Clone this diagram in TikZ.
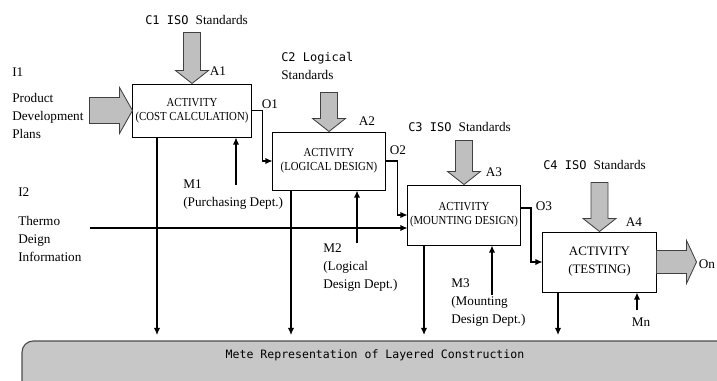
\documentclass[tikz,border=0pt]{standalone}
\usepackage{fontspec}
\setmainfont{Liberation Serif}
\newfontfamily\gothic{DejaVu Sans Mono}
\newfontfamily\boxfont[FakeStretch=0.88]{Liberation Serif}
\usetikzlibrary{arrows.meta,positioning}
\tikzset{
    actbox/.style={draw,line width=0.7pt,fill=white,align=center,inner sep=1pt,
        font=\boxfont\fontsize{8.7}{10}\selectfont},
    flow/.style={line width=0.9pt,-{Latex[length=5pt,width=4.5pt]}},
    lbl/.style={font=\fontsize{9.4}{12.8}\selectfont,align=left,inner sep=0pt},
    fatarr/.style={draw=black!75,line width=0.6pt,fill=black!25},
    pics/fatdown/.style={code={
        \draw[fatarr] (-8.5,-#1) -- (8.5,-#1) -- (8.5,-13) -- (16.5,-13) -- (0,0)
            -- (-16.5,-13) -- (-8.5,-13) -- cycle;}},
    pics/fatright/.style n args={4}{code={
        \draw[fatarr] (-#1,-#2) -- (-#4,-#2) -- (-#4,-#3) -- (0,0)
            -- (-#4,#3) -- (-#4,#2) -- (-#1,#2) -- cycle;}},
}

\begin{document}
\begin{tikzpicture}[x=0.025cm,y=-0.025cm]
\clip (0,0) rectangle (717,381);

% layered construction
\draw[draw=black!70,line width=0.8pt,fill=black!22,rounded corners=8pt] (22,341) rectangle (760,420);
\node[font=\gothic\fontsize{8.2}{10}\selectfont] (mete) at (375,355) {Mete Representation of Layered Construction};

% activities
\node[actbox,minimum width=2.95cm,minimum height=1.325cm] (a1) at (192,110.5) {ACTIVITY\\(COST CALCULATION)};
\node[actbox,minimum width=2.8cm,minimum height=1.45cm] (a2) at (329,161) {ACTIVITY\\(LOGICAL DESIGN)};
\node[actbox,minimum width=2.8cm,minimum height=1.5cm] (a3) at (464,215) {ACTIVITY\\(MOUNTING DESIGN)};
\node[actbox,minimum width=2.825cm,minimum height=1.5cm,
      font=\fontsize{9.2}{12.8}\selectfont] (a4) at (599.5,262) {ACTIVITY\\(TESTING)};

% controls, input, output
\pic at (a1.north) {fatdown=51};
\pic at (a2.north) {fatdown=39};
\pic at (a3.north) {fatdown=44};
\pic at (a4.north) {fatdown=49};
\pic at (a1.west) {fatright={43}{13}{23}{13}};
\pic at ([xshift=1cm]a4.east) {fatright={40}{11.5}{21.5}{10}};

% labels
\node[lbl,anchor=west] (c1) at (145,20) {{\gothic\fontsize{8.5}{10}\selectfont C1 ISO }Standards};
\node[lbl,anchor=west] (c2) at (281,65.5) {{\gothic\fontsize{8.5}{10}\selectfont C2 Logical}\\Standards};
\node[lbl,anchor=west] (c3) at (408,127) {{\gothic\fontsize{8.5}{10}\selectfont C3 ISO }Standards};
\node[lbl,anchor=west] (c4) at (543,165) {{\gothic\fontsize{8.5}{10}\selectfont C4 ISO }Standards};
\node[lbl] (la1) at (218,71) {A1};
\node[lbl] (la2) at (367,121) {A2};
\node[lbl] (la3) at (494,172) {A3};
\node[lbl] (la4) at (634,222) {A4};
\node[lbl,anchor=west] (i1) at (12,72) {I1};
\node[lbl,anchor=west] (i1t) at (12,116) {Product\\Development\\Plans};
\node[lbl,anchor=west] (i2) at (18,192) {I2};
\node[lbl,anchor=west] (i2t) at (18,238.5) {Thermo\\Deign\\Information};
\node[lbl] (o1) at (270,104) {O1};
\node[lbl] (o2) at (398,150) {O2};
\node[lbl] (o3) at (544,206) {O3};
\node[lbl] (on) at (707,264) {On};
\node[lbl,anchor=west] (m1t) at (183,194.5) {M1\\(Purchasing Dept.)};
\node[lbl,anchor=west] (m2t) at (323,268) {M2\\(Logical\\Design Dept.)};
\node[lbl,anchor=west] (m3t) at (451,303) {M3\\(Mounting\\Design Dept.)};
\node[lbl] (mnt) at (641,322) {Mn};

% connector ends
\coordinate (r1) at (157,335);
\coordinate (r2) at (291,335);
\coordinate (r3) at (424,335);
\coordinate (r4) at (558,335);
\coordinate (m1) at (236,185);
\coordinate (m2) at (357,243);
\coordinate (m3) at (492,295);
\coordinate (mn) at (637,310);
\coordinate (i2s) at (90,228);
\coordinate (o3k) at (531,208);

\foreach \r/\a in {r1/a1,r2/a2,r3/a3,r4/a4}
    \draw[flow] (\r |- \a.south) -- (\r);
\foreach \m/\a in {m1/a1,m2/a2,m3/a3,mn/a4}
    \draw[flow] (\m) -- (\m |- \a.south);

\draw[flow] (a1.east) -- ++(11,0) |- (a2.west);
\draw[flow] (a2.east) -- ++(12,0) |- (a3.west);
\draw[flow] (o3k -| a3.east) -- (o3k) |- (a4.west);
\draw[flow] (i2s) -- (i2s -| a3.west);

\end{tikzpicture}
\end{document}
